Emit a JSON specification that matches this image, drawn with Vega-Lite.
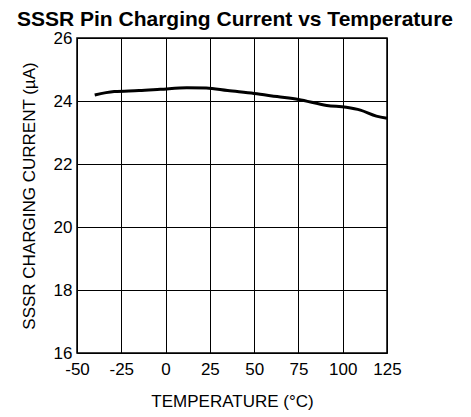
{
  "$schema": "https://vega.github.io/schema/vega-lite/v6.json",
  "autosize": "none",
  "width": 310,
  "height": 315,
  "padding": {"left": 77, "top": 38, "right": 84, "bottom": 64},
  "background": "white",
  "title": {
    "text": "SSSR Pin Charging Current vs Temperature",
    "font": "Liberation Sans",
    "fontSize": 21,
    "fontWeight": "bold",
    "color": "black",
    "anchor": "middle",
    "offset": -1,
    "dx": 3
  },
  "config": {
    "view": {"stroke": "black", "strokeWidth": 1.5},
    "axis": {
      "labelFont": "Liberation Sans",
      "titleFont": "Liberation Sans",
      "labelFontSize": 17,
      "titleFontSize": 17,
      "titleFontWeight": "normal",
      "labelColor": "black",
      "titleColor": "black",
      "gridColor": "black",
      "gridOpacity": 1,
      "gridWidth": 1,
      "domain": false,
      "ticks": false,
      "labelFlush": false,
      "labelOverlap": false,
      "labelExpr": "replace(datum.label, '−', '-')"
    }
  },
  "data": {
    "values": [
      {"t": -40, "i": 24.19},
      {"t": -29, "i": 24.30},
      {"t": -15, "i": 24.33},
      {"t": -3, "i": 24.37},
      {"t": 12, "i": 24.42},
      {"t": 23, "i": 24.41},
      {"t": 35, "i": 24.33},
      {"t": 50, "i": 24.24},
      {"t": 63, "i": 24.14},
      {"t": 75, "i": 24.05},
      {"t": 91, "i": 23.86},
      {"t": 102, "i": 23.80},
      {"t": 110, "i": 23.71},
      {"t": 119, "i": 23.52},
      {"t": 125, "i": 23.45}
    ]
  },
  "mark": {"type": "line", "color": "black", "strokeWidth": 3, "interpolate": "monotone"},
  "encoding": {
    "x": {
      "field": "t",
      "type": "quantitative",
      "scale": {"domain": [-50, 125], "nice": false},
      "axis": {"values": [-50, -25, 0, 25, 50, 75, 100, 125], "title": "TEMPERATURE (°C)", "labelPadding": 8, "titlePadding": 16}
    },
    "y": {
      "field": "i",
      "type": "quantitative",
      "scale": {"domain": [16, 26], "nice": false, "zero": false},
      "axis": {"values": [16, 18, 20, 22, 24, 26], "title": "SSSR CHARGING CURRENT (µA)", "labelPadding": 5, "titlePadding": 15}
    }
  }
}
